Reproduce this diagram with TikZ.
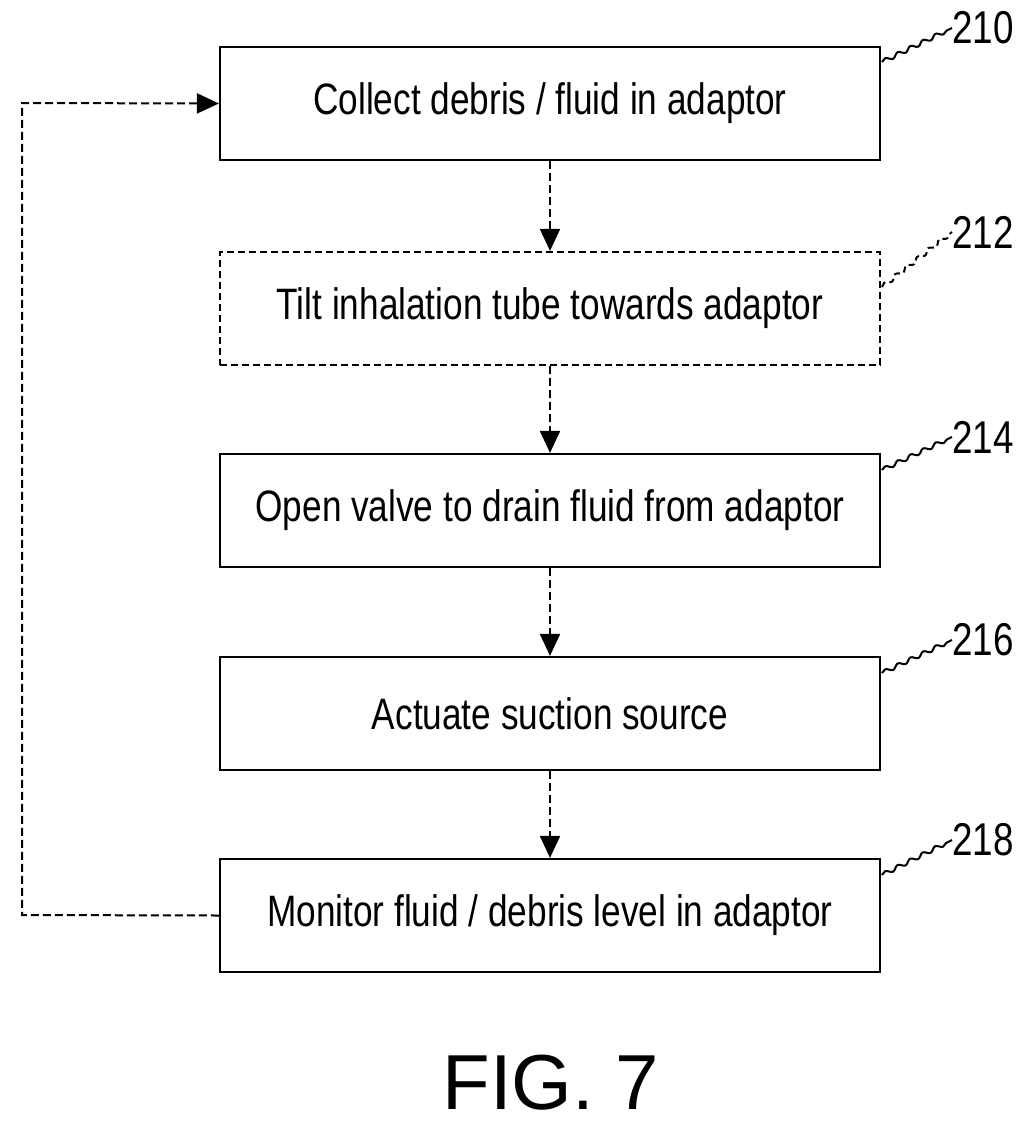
\documentclass[tikz,border=0pt]{standalone}
\usepackage{fontspec}
\setmainfont{Liberation Sans}[FakeStretch=0.8]
\newfontfamily\figfont{Liberation Sans}
\usetikzlibrary{arrows.meta,decorations.pathmorphing}
\begin{document}
\begin{tikzpicture}[x=1pt,y=-1pt,
  box/.style={draw,line width=2.2pt,minimum width=660pt,minimum height=113pt,font=\fontsize{44}{46}\selectfont,inner sep=0pt},
  arr/.style={line width=2pt,dash pattern=on 8pt off 4pt,-{Triangle[length=22pt,width=20pt]}},
  lead/.style={line width=2pt,decorate,decoration={snake,amplitude=2pt,segment length=14pt}},
  num/.style={font=\fontsize{46}{48}\selectfont,anchor=west,inner sep=0pt}]
\useasboundingbox (0,0) rectangle (1036,1136);
\node[box] (b1) at (550,103.5) {Collect debris / fluid in adaptor};
\node[box,dash pattern=on 7pt off 4pt] (b2) at (550,308.5) {Tilt inhalation tube towards adaptor};
\node[box] (b3) at (550,510.5) {Open valve to drain fluid from adaptor};
\node[box] (b4) at (550,713.5) {Actuate suction source};
\node[box] (b5) at (550,915.5) {Monitor fluid / debris level in adaptor};
\draw[arr] (b1) -- (b2);
\draw[arr] (b2) -- (b3);
\draw[arr] (b3) -- (b4);
\draw[arr] (b4) -- (b5);
\coordinate (c1) at (22,915);
\coordinate (c2) at (22,103);
\draw[arr] (b5.west) -- (c1) -- (c2) -- (b1.west);
\node[num] (n1) at (952,28) {210};
\node[num] (n2) at (952,232) {212};
\node[num] (n3) at (952,437) {214};
\node[num] (n4) at (952,640) {216};
\node[num] (n5) at (952,840) {218};
\draw[lead] (882,62) -- (n1.west);
\draw[lead,dash pattern=on 6pt off 4pt] (882,287) -- (n2.west);
\draw[lead] (882,470) -- (n3.west);
\draw[lead] (882,673) -- (n4.west);
\draw[lead] (882,875) -- (n5.west);
\node[font=\figfont\fontsize{78}{80}\selectfont] (fig) at (551,1083) {FIG. 7};
\end{tikzpicture}
\end{document}
